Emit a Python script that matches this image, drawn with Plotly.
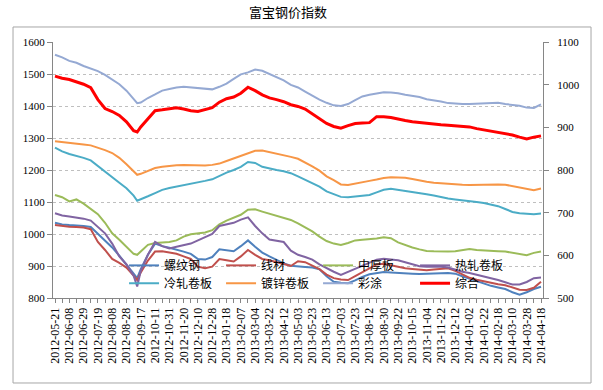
import plotly.graph_objects as go

title_text = "富宝钢价指数"

date_labels = [
    "2012-05-21", "2012-06-08", "2012-06-29", "2012-07-19", "2012-08-08", "2012-08-28",
    "2012-09-17", "2012-10-11", "2012-10-31", "2012-11-20", "2012-12-10", "2012-12-28",
    "2013-01-18", "2013-02-07", "2013-03-04", "2013-03-22", "2013-04-12", "2013-05-03",
    "2013-05-23", "2013-06-13", "2013-07-03", "2013-07-23", "2013-08-12", "2013-08-30",
    "2013-09-22", "2013-10-15", "2013-11-04", "2013-11-22", "2013-12-12", "2014-01-02",
    "2014-01-22", "2014-02-18", "2014-03-10", "2014-03-28", "2014-04-18",
]

# sample positions along the category axis (in units of tick labels)
x_pos = [i * 0.5 for i in range(12)] + [5.75] + [6 + i * 0.5 for i in range(57)]

luowen = [1035, 1030, 1028, 1027, 1025, 1022, 1000, 980, 958, 932, 905, 875, 862,
          890, 935, 970, 962, 957, 952, 945, 938, 922, 920, 928, 952, 950, 946, 962,
          980, 960, 942, 930, 920, 908, 901, 898, 897, 895, 890, 868, 851, 848, 846,
          855, 866, 874, 878, 881, 880, 878, 877, 876, 875, 875, 876, 877, 878, 876,
          868, 860, 852, 845, 838, 833, 828, 818, 810, 818, 828, 835]
xiancai = [1028, 1025, 1023, 1022, 1020, 1015, 975, 950, 922, 910, 895, 870, 856,
           880, 917, 945, 946, 942, 938, 930, 922, 898, 893, 898, 922, 918, 914, 930,
           950, 935, 922, 918, 913, 906, 900, 915, 912, 900, 890, 873, 862, 858, 856,
           868, 880, 893, 905, 907, 902, 896, 893, 891, 889, 887, 889, 892, 893, 885,
           873, 863, 857, 852, 847, 843, 840, 833, 826, 825, 832, 851]
zhonghou = [1122, 1115, 1102, 1108, 1095, 1078, 1062, 1035, 1002, 982, 960, 938, 935,
            945, 966, 972, 974, 975, 980, 992, 999, 1002, 1005, 1012, 1030, 1042, 1052, 1060,
            1076, 1077, 1070, 1064, 1058, 1052, 1044, 1033, 1021, 1008, 992, 978, 970, 966, 972,
            980, 982, 983, 986, 990, 987, 974, 965, 958, 952, 947, 946, 945, 945, 946,
            950, 953, 950, 948, 947, 946, 945, 941, 937, 934, 941, 945]
rezha = [1065, 1058, 1055, 1052, 1048, 1042, 1022, 1002, 970, 930, 905, 870, 836,
         885, 935, 975, 962, 955, 960, 964, 970, 980, 990, 1000, 1025, 1030, 1035, 1045,
         1052, 1025, 1002, 983, 978, 975, 948, 935, 928, 920, 905, 893, 882, 872, 882,
         890, 902, 912, 920, 923, 921, 918, 912, 905, 899, 898, 898, 898, 895, 888,
         882, 878, 873, 868, 862, 856, 849, 842, 842, 850, 862, 864]
lengzha = [1270, 1258, 1250, 1245, 1238, 1230, 1212, 1195, 1176, 1160, 1143, 1120, 1104,
           1108, 1118, 1128, 1138, 1144, 1148, 1153, 1158, 1162, 1166, 1171, 1182, 1192, 1200, 1210,
           1225, 1222, 1210, 1204, 1200, 1196, 1190, 1180, 1170, 1160, 1148, 1133, 1124, 1116, 1115,
           1117, 1120, 1122, 1130, 1138, 1141, 1138, 1135, 1131, 1128, 1124, 1120, 1115, 1111, 1108,
           1106, 1103, 1100, 1097, 1093, 1087, 1078, 1069, 1065, 1063, 1062, 1064]
duxin = [1290, 1288, 1286, 1283, 1280, 1277, 1270, 1262, 1253, 1238, 1218, 1194, 1185,
         1188, 1196, 1206, 1210, 1213, 1215, 1216, 1215, 1214, 1214, 1216, 1220, 1228, 1236, 1243,
         1252, 1260, 1261, 1256, 1252, 1248, 1241, 1235, 1224, 1211, 1198, 1180, 1168, 1155, 1153,
         1158, 1163, 1166, 1170, 1175, 1177, 1177, 1176, 1172, 1167, 1163, 1160, 1158, 1157, 1155,
         1154, 1153, 1154, 1155, 1155, 1155, 1154, 1150, 1147, 1141, 1137, 1142]
caitu = [1560, 1552, 1541, 1535, 1525, 1518, 1509, 1497, 1483, 1468, 1448, 1420, 1409,
         1411, 1425, 1436, 1448, 1453, 1458, 1460, 1458, 1457, 1454, 1452, 1460, 1470, 1485, 1499,
         1505, 1514, 1510, 1500, 1492, 1480, 1466, 1458, 1445, 1432, 1420, 1410, 1402, 1400, 1406,
         1418, 1430, 1435, 1440, 1443, 1442, 1440, 1435, 1432, 1428, 1421, 1418, 1414, 1409, 1407,
         1406, 1406, 1407, 1408, 1409, 1410, 1406, 1404, 1401, 1395, 1394, 1405]
# composite index, read on the right-hand axis
zonghe = [1020, 1015, 1012, 1007, 1001, 993, 965, 944, 937, 928, 913, 892, 889,
          901, 919, 939, 941, 944, 946, 943, 939, 937, 941, 946, 959, 967, 971, 980,
          994, 986, 976, 969, 965, 960, 953, 949, 943, 931, 919, 909, 902, 898, 904,
          909, 910, 911, 925, 925, 923, 919, 916, 913, 911, 910, 907, 906, 905, 904,
          903, 901, 897, 894, 891, 888, 886, 882, 877, 873, 877, 880]

series = [
    ("螺纹钢", luowen, "#4F81BD", 2, "y", "legend"),
    ("线材", xiancai, "#C0504D", 2, "y", "legend"),
    ("中厚板", zhonghou, "#9BBB59", 2, "y", "legend"),
    ("热轧卷板", rezha, "#8064A2", 2, "y", "legend"),
    ("冷轧卷板", lengzha, "#4BACC6", 2, "y", "legend2"),
    ("镀锌卷板", duxin, "#F79646", 2, "y", "legend2"),
    ("彩涂", caitu, "#95A9D3", 2, "y", "legend2"),
    ("综合", zonghe, "#FF0000", 3, "y2", "legend2"),
]

fig = go.Figure()
for name, vals, color, width, axis, leg in series:
    fig.add_trace(go.Scatter(
        x=x_pos, y=vals, name=name, mode="lines", yaxis=axis, legend=leg,
        line=dict(color=color, width=width),
    ))

tick_font = dict(family="Liberation Serif, serif", size=11, color="#000000")
xtick_font = dict(family="Liberation Serif, serif", size=12, color="#000000")
legend_font = dict(family="Noto Sans CJK SC", size=12, color="#000000")
legend_common = dict(orientation="h", x=0.145, xanchor="left", yanchor="top",
                     bgcolor="rgba(0,0,0,0)", entrywidth=52, entrywidthmode="pixels",
                     itemwidth=30, tracegroupgap=0, font=legend_font)

fig.update_layout(
    template="none",
    width=603, height=390,
    margin=dict(l=53, r=60, t=42, b=92, autoexpand=False),
    paper_bgcolor="white", plot_bgcolor="white",
    title=dict(text=title_text, x=0.4776, y=0.968, xref="container", yref="container",
               xanchor="center", yanchor="middle",
               font=dict(family="Noto Sans CJK SC", size=13, color="#000000")),
    showlegend=True,
    legend=dict(y=0.184, **legend_common),
    legend2=dict(y=0.114, **legend_common),
    xaxis=dict(range=[-0.14, 34.14], tickmode="array", automargin=False,
               tickvals=list(range(len(date_labels))), ticktext=date_labels,
               tickangle=-90, tickfont=xtick_font, showgrid=False, zeroline=False,
               showline=True, linecolor="#868686", linewidth=1,
               ticks="outside", ticklen=4, tickcolor="#868686",
               minor=dict(ticks="outside", dtick=0.5, tick0=0, ticklen=4, tickcolor="#868686", showgrid=False)),
    yaxis=dict(range=[800, 1600], dtick=100, tick0=800, tickfont=tick_font, automargin=False,
               showgrid=True, gridcolor="#BFBFBF", griddash="dot", gridwidth=1,
               zeroline=False, showline=True, linecolor="#868686", linewidth=1,
               ticks="outside", ticklen=5, tickcolor="#868686"),
    yaxis2=dict(range=[500, 1100], dtick=100, tick0=500, tickfont=tick_font, automargin=False,
                overlaying="y", side="right", showgrid=False, zeroline=False,
                showline=True, linecolor="#868686", linewidth=1,
                ticks="outside", ticklen=5, tickcolor="#868686", ticklabelstandoff=6),
    shapes=[dict(type="rect", xref="paper", yref="paper",
                 x0=-0.0816, x1=1.098, y0=-0.332, y1=1.0586,
                 line=dict(color="#A6A6A6", width=1), fillcolor="rgba(0,0,0,0)", layer="above")],
)

fig.write_html("out.html", config={"displayModeBar": False},
               post_script="document.body.style.margin='0';")
